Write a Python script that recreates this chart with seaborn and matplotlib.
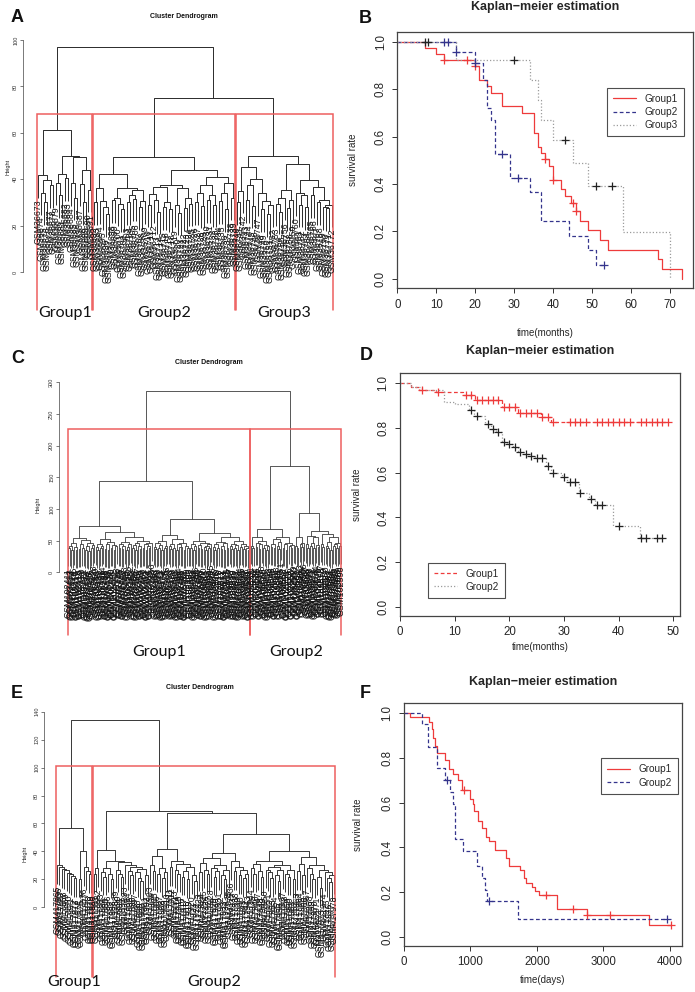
import numpy as np
import pandas as pd
import matplotlib
matplotlib.use("Agg")
import matplotlib.pyplot as plt
import matplotlib.transforms as mtransforms
from matplotlib import font_manager
from matplotlib.collections import LineCollection
from matplotlib.lines import Line2D
import seaborn as sns

# ======================= DATA =======================
# Dendrograms: height of the merge that joins each pair of neighbouring leaves
# (leaves in dendrogram order).
A_gaps = [41.8, 34.2, 30, 39.7, 37.5, 61.2, 38.5, 33, 42.2, 40.4,
          50.1, 38.2, 32, 49.7, 38, 30, 44, 35.5,
          97,
          30, 36.3, 30.5, 28, 25, 42.1, 31, 32, 29.5, 27,
          36.4, 30, 33, 31.5, 35.5, 28, 30.5, 49.5, 29, 33.5,
          31, 26, 36.8, 28, 30, 27, 37.5, 29, 25.5, 36.3,
          27.5, 32, 29.5, 44, 30, 34, 28.5, 37.5, 31, 33,
          29, 41.1, 30.5, 34, 27, 38.2, 32,
          75,
          30, 35, 45.1, 31, 37.5, 28.5, 40.1, 34, 27, 30.5,
          25, 29, 50, 29.5, 26, 32, 35.3, 27.5, 31, 46.6,
          34, 29, 33, 28, 39.7, 33, 36.7, 30, 31, 28,
          27.5, 29]
A_groups = ["Group1", "Group2", "Group3"]
A_yticks = [0, 20, 40, 60, 80, 100]
A_first_id = 36673

C_gaps = [38, 42, 35, 46, 40, 36, 54.6, 37, 44, 39, 50.5, 36, 41, 34, 47, 38, 43,
          73,
          40, 36, 45, 38, 42, 52, 37, 44, 35, 48, 39, 43, 36, 41,
          63,
          39, 45, 37, 42, 48, 36, 40, 44, 55, 38, 43, 35, 47, 41, 37, 50, 39, 44, 36, 42, 38, 46,
          144,
          40, 37, 46, 39, 43, 36, 49, 38, 42,
          59,
          41, 37, 45, 39, 52, 36, 44, 40, 38, 47, 35, 42, 39,
          83.6,
          38, 44, 36, 41, 50, 39, 43, 37, 46, 40, 35, 42, 38, 45,
          61.6,
          40, 36, 44, 38, 48, 37, 42, 35, 46, 39, 56, 41, 37, 45, 38, 43, 36, 49, 40, 44, 37, 42, 39, 35,
          286,
          42, 38, 55, 40, 46, 37, 44, 50, 39, 43, 36, 41,
          68,
          40, 45, 38, 52, 42, 37, 48, 55.5, 39, 44, 36, 47, 41, 38, 43,
          168,
          42, 38, 56, 45, 40, 47,
          93,
          44, 39, 58, 41, 46, 38, 55, 43, 40,
          65,
          45, 40, 60, 42, 38, 48, 36, 55, 41, 44, 39, 46, 42]
C_groups = ["Group1", "Group2"]
C_yticks = [0, 50, 100, 150, 200, 250, 300]
C_first_id = 102411

E_gaps = [30.3, 29.1, 27.5, 26.7, 24.8, 23.5, 22.4, 21, 56.5, 20.5, 40.5, 28.5, 26, 23.5,
          134,
          24, 28, 41, 25, 22, 28, 24, 20, 33.4,
          27, 24, 22, 32.5, 30, 26, 23, 28.5, 25, 21, 19, 27.5, 23,
          69,
          30, 26, 37, 24, 28, 21, 25, 42, 29, 33, 27, 24, 31, 22, 26, 20, 28.5, 23, 19,
          67.3,
          25, 32, 27, 24, 35.5, 28, 22, 26, 30, 23, 20, 27, 39, 33, 26, 29, 23, 27, 21, 24,
          52.5,
          28, 24, 31, 26, 22, 33.5, 27, 25, 21, 29, 23, 19, 26.5, 30, 24, 22, 27, 20,
          40.5,
          26, 31, 23, 36, 28, 24, 20, 30, 22, 14, 27, 25, 21, 18, 23]
E_groups = ["Group1", "Group2"]
E_yticks = [0, 20, 40, 60, 80, 100, 120, 140]
E_first_id = 417865

# Kaplan-Meier curves: step times / survival after the step, censor marks
B_g1_t = [0, 7, 10, 12, 20, 21, 23, 24, 27, 32, 35, 36, 37, 38, 39, 40, 42, 43, 44.6, 46, 47, 49, 52, 54, 67, 68, 73]
B_g1_s = [1.0, 0.976, 0.948, 0.923, 0.898, 0.842, 0.813, 0.785, 0.729, 0.701, 0.617, 0.558, 0.530, 0.505,
          0.477, 0.418, 0.38, 0.35, 0.32, 0.285, 0.245, 0.205, 0.165, 0.123, 0.083, 0.042, 0.0]
B_g1_ct = [12, 18, 20, 38, 40, 45, 46]
B_g1_cs = [0.923, 0.923, 0.898, 0.505, 0.418, 0.32, 0.285]
B_g2_t = [0, 15, 20, 22, 23, 24, 25, 29, 34, 37, 44, 49, 51, 53]
B_g2_s = [1.0, 0.958, 0.912, 0.839, 0.72, 0.673, 0.527, 0.425, 0.365, 0.245, 0.182, 0.123, 0.06, 0.06]
B_g2_ct = [12, 13, 15, 20, 27, 31, 53]
B_g2_cs = [1.0, 1.0, 0.958, 0.912, 0.527, 0.425, 0.06]
B_g3_t = [0, 15, 34, 36, 37, 40, 45, 49, 58, 70]
B_g3_s = [1.0, 0.923, 0.839, 0.755, 0.673, 0.586, 0.491, 0.393, 0.198, 0.0]
B_g3_ct = [7, 8, 30, 43, 51, 55]
B_g3_cs = [1.0, 1.0, 0.923, 0.586, 0.393, 0.393]

D_g1_t = [0, 2, 3.5, 6.5, 11.5, 13.7, 18.6, 21.6, 25.8, 27.7, 49]
D_g1_s = [1.0, 0.985, 0.97, 0.96, 0.945, 0.925, 0.895, 0.866, 0.847, 0.825, 0.825]
D_g1_ct = [4, 7, 12, 13, 14, 15, 16, 17, 18, 19, 20, 21, 22, 23, 24, 25, 26, 27, 28,
           31, 32, 33, 34, 36, 37, 38, 39, 40, 41, 42, 44, 45, 46, 47, 48, 49]
D_g1_cs = [0.97, 0.96, 0.945, 0.945, 0.925, 0.925, 0.925, 0.925, 0.925, 0.895, 0.895, 0.895,
           0.866, 0.866, 0.866, 0.866, 0.847, 0.847, 0.825, 0.825, 0.825, 0.825, 0.825, 0.825,
           0.825, 0.825, 0.825, 0.825, 0.825, 0.825, 0.825, 0.825, 0.825, 0.825, 0.825, 0.825]
D_g2_t = [0, 2, 4, 8, 10, 12.6, 13.6, 15.6, 16.6, 17.6, 18.7, 19.6, 20.6, 21.6, 22.6, 23.6, 24.6,
          26.7, 27.7, 29.6, 30.6, 32.7, 34.6, 35.6, 38.9, 43.9, 48]
D_g2_s = [1.0, 0.985, 0.97, 0.918, 0.905, 0.881, 0.855, 0.817, 0.796, 0.781, 0.739, 0.729, 0.714,
          0.692, 0.683, 0.676, 0.665, 0.632, 0.597, 0.583, 0.56, 0.509, 0.484, 0.454, 0.363, 0.308, 0.308]
D_g2_ct = [13, 14, 16, 17, 18, 19, 20, 21, 22, 23, 24, 25, 26, 27, 28, 30, 31, 32, 33, 35, 36, 37,
           40, 44, 45, 47, 48]
D_g2_cs = [0.881, 0.855, 0.817, 0.796, 0.781, 0.739, 0.729, 0.714, 0.692, 0.683, 0.676, 0.665,
           0.665, 0.632, 0.597, 0.583, 0.56, 0.56, 0.509, 0.484, 0.454, 0.454, 0.363, 0.308,
           0.308, 0.308, 0.308]

F_g1_t = [0, 90, 381, 416, 441, 466, 491, 617, 682, 742, 817, 867, 992, 1033, 1053, 1118, 1168,
          1233, 1283, 1368, 1534, 1584, 1744, 1805, 1835, 1920, 1970, 2035, 2296, 2747, 3689, 4020]
F_g1_s = [1.0, 0.981, 0.96, 0.928, 0.89, 0.855, 0.82, 0.79, 0.749, 0.727, 0.70, 0.655, 0.615,
          0.593, 0.563, 0.518, 0.485, 0.446, 0.43, 0.391, 0.351, 0.316, 0.301, 0.264, 0.242,
          0.222, 0.204, 0.186, 0.127, 0.10, 0.052, 0.052]
F_g1_ct = [907, 2135, 2546, 2757, 3098, 4020]
F_g1_cs = [0.655, 0.186, 0.127, 0.10, 0.10, 0.052]
F_g2_t = [0, 266, 366, 491, 617, 692, 742, 767, 882, 1103, 1168, 1218, 1253, 1719, 3950]
F_g2_s = [1.0, 0.95, 0.85, 0.754, 0.70, 0.649, 0.593, 0.436, 0.383, 0.316, 0.264, 0.212, 0.163, 0.082, 0.082]
F_g2_ct = [642, 1273, 3950]
F_g2_cs = [0.70, 0.163, 0.082]

km_yticks = [0.0, 0.2, 0.4, 0.6, 0.8, 1.0]
km_ytick_labels = ["0.0", "0.2", "0.4", "0.6", "0.8", "1.0"]
B_xticks = [0, 10, 20, 30, 40, 50, 60, 70]
D_xticks = [0, 10, 20, 30, 40, 50]
F_xticks = [0, 1000, 2000, 3000, 4000]

# ======================= STYLE =======================
sns.set_theme(style="white")
plt.rcParams["font.family"] = ["Liberation Sans", "DejaVu Sans"]
plt.rcParams["axes.unicode_minus"] = False

_names = {f.name for f in font_manager.fontManager.ttflist}
if "Liberation Sans Narrow" in _names:
    NARROW, NS = "Liberation Sans Narrow", 1.0
else:
    NARROW, NS = "Liberation Sans", 0.82
GROUPFONT = "Lato" if "Lato" in _names else "Liberation Sans"
LEAFFONT = "Liberation Sans"

RED = "#ee3b3b"
NAVY = "#34348c"
GRAY = "#9c9c9c"
CBLK = "#222222"
DEND = "#2a2a2a"
RECT = "#ee5f5f"

FW, FH = 695, 992
fig = plt.figure(figsize=(FW / 100, FH / 100), dpi=100)


def px_axes(l, t, r, b):
    ax = fig.add_axes([l / FW, 1 - b / FH, (r - l) / FW, (b - t) / FH])
    ax.patch.set_alpha(0)
    return ax


def px_text(x, y, s, **kw):
    kw.setdefault("ha", "center")
    kw.setdefault("va", "center")
    fig.text(x / FW, 1 - y / FH, s, **kw)


# ======================= DENDROGRAMS =======================
def dendrogram(box, leaf0_px, step_px, zero_px, unit_px, gaps, first_id, n_groups,
               group_names, group_y, yticks, lw, title_xy, height_xy, leaf_fs):
    l, t, r, b = box
    ax = px_axes(l, t, r, b)
    g = np.asarray(gaps, float)
    n = g.size + 1
    hang = 0.1 * g.max()
    segs = []
    leaf_end = np.zeros(n)

    def rec(lo, hi):
        if lo == hi:
            return float(lo), None
        k = lo + int(np.argmax(g[lo:hi]))
        h = g[k]
        lp, lh = rec(lo, k)
        rp, rh = rec(k + 1, hi)
        if lh is None:
            lh = h - hang
            leaf_end[lo] = lh
        if rh is None:
            rh = h - hang
            leaf_end[hi] = rh
        segs.append([(lp, lh), (lp, h), (rp, h), (rp, rh)])
        return (lp + rp) / 2, h

    rec(0, n - 1)
    ax.add_collection(LineCollection(segs, colors=DEND, linewidths=lw))

    ylim = ((zero_px - b) / unit_px, (zero_px - t) / unit_px)
    xlim = ((l - leaf0_px) / step_px, (r - leaf0_px) / step_px)
    ax.set_xlim(*xlim)
    ax.set_ylim(*ylim)

    for i in range(n):
        ax.annotate(f"GSM{first_id + i}", (i, leaf_end[i]), xytext=(0, -1.2),
                    textcoords="offset points", rotation=90, ha="center", va="top",
                    fontsize=leaf_fs, family=LEAFFONT, color="#111111", annotation_clip=False)

    # rect.hclust style boxes
    srt = np.sort(g)[::-1]
    cut = (srt[n_groups - 2] + srt[n_groups - 1]) / 2
    splits = np.where(g > cut)[0]
    starts = np.r_[0, splits + 1]
    ends = np.r_[splits, n - 1]
    yb = ylim[0]
    blend = mtransforms.blended_transform_factory(ax.transData, ax.transAxes)
    for s, e, name in zip(starts, ends, group_names):
        ax.plot([s - 0.34, s - 0.34, e + 0.33, e + 0.33], [yb, cut, cut, yb],
                color=RECT, lw=1.1, clip_on=False, solid_joinstyle="miter")
        ax.text((s + e) / 2, group_y, name, transform=blend, ha="center", va="center",
                fontsize=11.5, family=GROUPFONT, color="#111111")

    for sp in ["top", "right", "bottom"]:
        ax.spines[sp].set_visible(False)
    ax.spines["left"].set_bounds(yticks[0], yticks[-1])
    ax.spines["left"].set_color("#444444")
    ax.spines["left"].set_linewidth(0.5)
    ax.set_xticks([])
    ax.set_yticks(yticks)
    ax.set_yticklabels([str(v) for v in yticks], rotation=90, va="center",
                       fontsize=5.0 * NS, family=NARROW, color="#333333")
    ax.tick_params(axis="y", direction="out", length=2, width=0.5, pad=1.5, left=True,
                   color="#444444")
    px_text(*title_xy, "Cluster Dendrogram", fontsize=6.2 * NS, family=NARROW,
            fontweight="bold", color="#111111")
    px_text(*height_xy, "Height", fontsize=4.8 * NS, family=NARROW, rotation=90,
            color="#222222")
    return ax


dendrogram((23, 30, 345, 310), 38, 2.97, 272, 2.32, A_gaps, A_first_id, 3, A_groups,
           -0.011, A_yticks, 0.7, (184, 16.7), (8.3, 166.7), 6.3)
dendrogram((59, 375, 345, 635), 68.3, 1.522, 572.3, 0.6333, C_gaps, C_first_id, 2, C_groups,
           -0.065, C_yticks, 0.55, (209, 362.7), (38.3, 505), 6.4)
dendrogram((44, 705, 345, 976.7), 56.7, 2.457, 907.3, 1.397, E_gaps, E_first_id, 2, E_groups,
           -0.0195, E_yticks, 0.65, (200, 687.7), (25, 854), 6.2)


# ======================= KAPLAN-MEIER =======================
def km_panel(box, curves, xlim, xticks, xlabel, leg_anchor, title_gap, xlab_y, ylab_x):
    l, t, r, b = box
    ax = px_axes(l, t, r, b)
    handles = []
    for c in curves:
        df = pd.DataFrame({"time": c["t"], "surv": c["s"]})
        sns.lineplot(data=df, x="time", y="surv", ax=ax, color=c["color"], linestyle=c["ls"],
                     linewidth=0.9, drawstyle="steps-post", estimator=None, sort=False)
        cf = pd.DataFrame({"time": c["ct"], "surv": c["cs"]})
        sns.scatterplot(data=cf, x="time", y="surv", ax=ax, marker="+", s=32, color=c["mc"],
                        edgecolor=c["mc"], linewidth=0.9, legend=False, zorder=3)
        handles.append(Line2D([], [], color=c["color"], linestyle=c["ls"], linewidth=0.9,
                              label=c["name"]))
    ax.set_xlim(*xlim)
    ax.set_ylim(-0.04, 1.044)
    ax.set_xticks(xticks)
    ax.set_xticklabels([str(v) for v in xticks], fontsize=8.3)
    ax.set_yticks(km_yticks)
    ax.set_yticklabels(km_ytick_labels, rotation=90, va="center", fontsize=8.3)
    ax.tick_params(direction="out", length=3.5, width=0.7, color="#333333", pad=4,
                   bottom=True, left=True)
    for sp in ax.spines.values():
        sp.set_color("#444444")
        sp.set_linewidth(0.9)
    ax.set_xlabel(xlabel, fontsize=7)
    ax.set_ylabel("survival rate", fontsize=7)
    ax.xaxis.set_label_coords(0.5, xlab_y)
    ax.yaxis.set_label_coords(ylab_x, 0.5)
    ax.text(0.5, 1 + title_gap, "Kaplan\u2212meier estimation", transform=ax.transAxes,
            ha="center", va="center", fontsize=9, fontweight="bold")
    leg = ax.legend(handles=handles, loc="upper left", bbox_to_anchor=leg_anchor,
                    frameon=True, fancybox=False, edgecolor="#222222", fontsize=7.2,
                    handlelength=2.3, handletextpad=0.9, labelspacing=0.32,
                    borderpad=0.6, borderaxespad=0)
    leg.get_frame().set_linewidth(0.8)
    return ax


SOLID, DASH, DOT = "-", (0, (3, 2)), (0, (1, 1.6))
km_panel((397.3, 31.7, 693.3, 288.3),
         [dict(t=B_g1_t, s=B_g1_s, ct=B_g1_ct, cs=B_g1_cs, color=RED, ls=SOLID, mc=RED, name="Group1"),
          dict(t=B_g2_t, s=B_g2_s, ct=B_g2_ct, cs=B_g2_cs, color=NAVY, ls=DASH, mc=NAVY, name="Group2"),
          dict(t=B_g3_t, s=B_g3_s, ct=B_g3_ct, cs=B_g3_cs, color=GRAY, ls=DOT, mc=CBLK, name="Group3")],
         (0, 76), B_xticks, "time(months)", (0.708, 0.781), 0.0975, -0.155, -0.133)
km_panel((400, 373.3, 680, 616),
         [dict(t=D_g1_t, s=D_g1_s, ct=D_g1_ct, cs=D_g1_cs, color=RED, ls=DASH, mc=RED, name="Group1"),
          dict(t=D_g2_t, s=D_g2_s, ct=D_g2_ct, cs=D_g2_cs, color=GRAY, ls=DOT, mc=CBLK, name="Group2")],
         (0, 51.2), D_xticks, "time(months)", (0.099, 0.22), 0.093, -0.107, -0.137)
km_panel((404, 703.3, 681.7, 946),
         [dict(t=F_g1_t, s=F_g1_s, ct=F_g1_ct, cs=F_g1_cs, color=RED, ls=SOLID, mc=RED, name="Group1"),
          dict(t=F_g2_t, s=F_g2_s, ct=F_g2_ct, cs=F_g2_cs, color=NAVY, ls=DASH, mc=NAVY, name="Group2")],
         (0, 4176), F_xticks, "time(days)", (0.708, 0.773), 0.089, -0.12, -0.148)

# panel letters
for letter, x, y in [("A", 17, 18), ("B", 365, 18.3), ("C", 18, 358.3),
                     ("D", 366.7, 356), ("E", 16.7, 693.3), ("F", 365, 693.3)]:
    px_text(x, y, letter, fontsize=13, fontweight="bold", color="#111111")

fig.savefig("out.png", dpi=100)
